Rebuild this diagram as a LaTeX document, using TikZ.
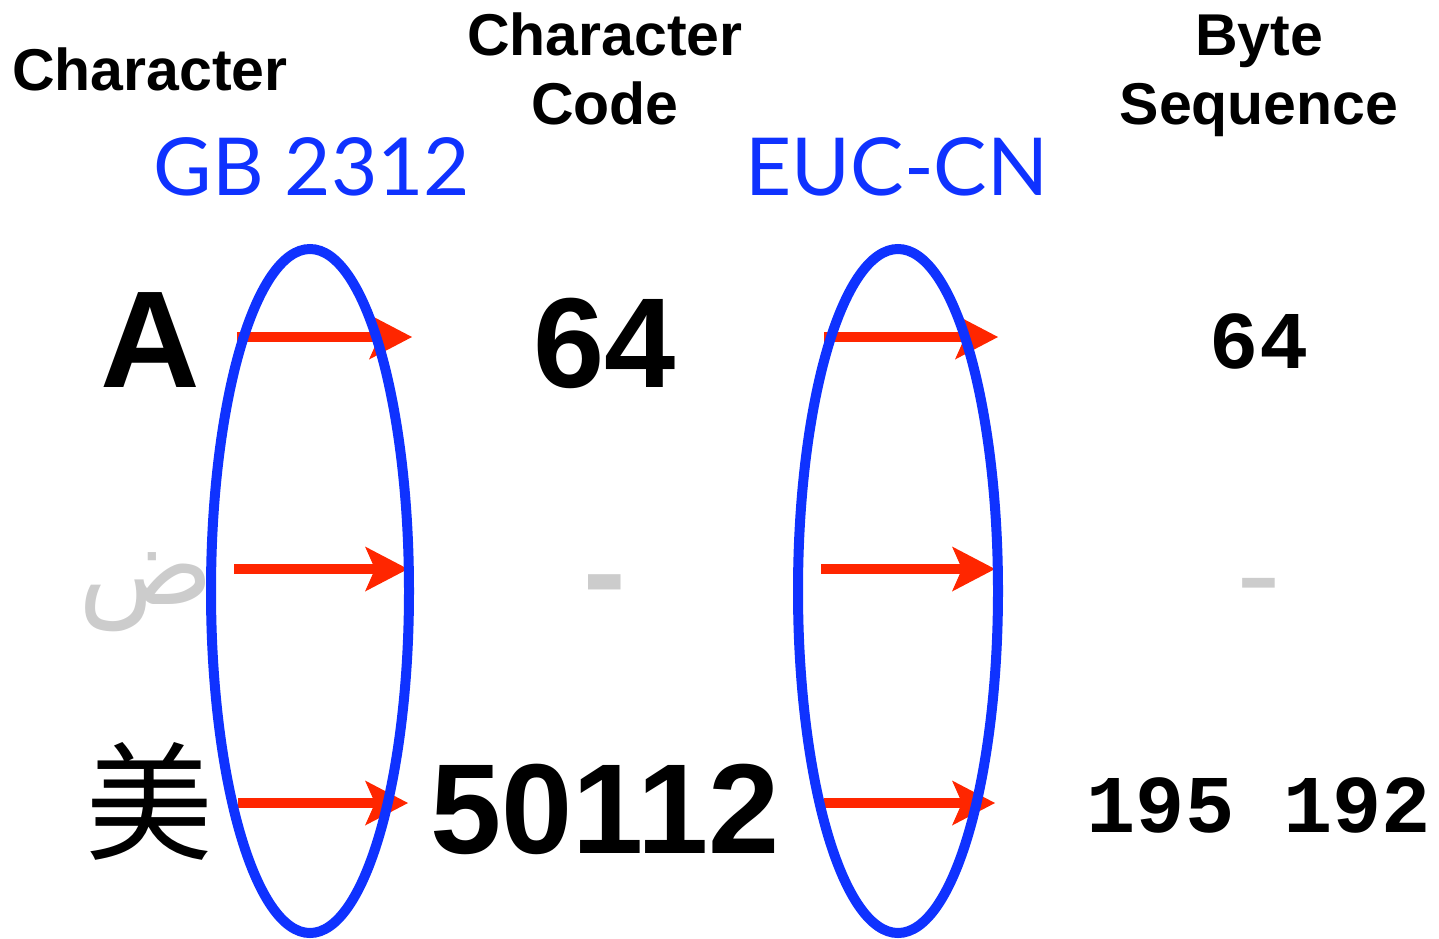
\documentclass[tikz,border=0pt]{standalone}
\usepackage{fontspec}
\usetikzlibrary{arrows.meta}
\setmainfont{Liberation Sans}
\newfontfamily\monofont{Liberation Mono}
\newfontfamily\labelfont{Lato}
\newfontfamily\cjkfont{Noto Sans CJK SC}
\newfontfamily\arabicfont[Script=Arabic]{DejaVu Sans}
\TeXXeTstate=1
\definecolor{encblue}{RGB}{15,50,255}
\definecolor{maparrow}{RGB}{255,38,0}
\definecolor{absent}{RGB}{204,204,204}
\begin{document}
\begin{tikzpicture}[x=1pt,y=-1pt,
  txt/.style={inner sep=0pt,anchor=base},
  header/.style={txt,align=center,font=\bfseries\fontsize{59}{69}\selectfont},
  encname/.style={txt,text=encblue,font=\labelfont\fontsize{80}{90}\selectfont},
  bigsym/.style={txt,font=\bfseries\fontsize{138}{150}\selectfont},
  codenum/.style={txt,font=\bfseries\fontsize{128}{140}\selectfont},
  bytenum/.style={txt,font=\monofont\bfseries\fontsize{82}{92}\selectfont},
  maps/.style={draw=maparrow,line width=10pt,
    -{Stealth[length=43pt,width=45pt,inset=10pt,line width=0pt]}},
  encoding/.style={draw=encblue,line width=10pt}]
\useasboundingbox (0,0) rectangle (1439,938);

% column headers (anchored at the baseline of the last line)
\node[header] (hchar) at (150,90) {Character};
\node[header] (hcode) at (605,124) {Character\\Code};
\node[header] (hbyte) at (1259,124) {Byte\\Sequence};

% encoding names
\node[encname] (gb) at (312,195) {GB 2312};
\node[encname] (euc) at (897,195) {EUC-CN};

% characters
\node[bigsym] (chA) at (150,387) {A};
\node[txt,text=absent,font=\arabicfont\fontsize{112}{120}\selectfont] (chDad) at (146,604) {\beginR ض\endR};
\node[txt,font=\cjkfont\fontsize{128}{140}\selectfont] (chMei) at (149,850) {美};

% character codes
\node[codenum] (c64) at (605,387) {64};
\node[codenum,text=absent] (cnone) at (605,615) {-};
\node[codenum] (c50112) at (605,853) {50112};

% byte sequences
\node[bytenum] (b64) at (1259,368) {64};
\node[bytenum,text=absent,xscale=1.4] (bnone) at (1259,604) {-};
\node[bytenum] (bmei) at (1259,832) {195 192};

% mapping arrows
\coordinate (g1s) at (237,337); \coordinate (g1e) at (412,337);
\coordinate (g2s) at (234,569); \coordinate (g2e) at (408,569);
\coordinate (g3s) at (238,803); \coordinate (g3e) at (408,803);
\coordinate (e1s) at (824,337); \coordinate (e1e) at (998,337);
\coordinate (e2s) at (821,569); \coordinate (e2e) at (995,569);
\coordinate (e3s) at (824,803); \coordinate (e3e) at (995,803);
\foreach \a in {g1,g2,g3,e1,e2,e3}
  \draw[maps] (\a s) -- (\a e);

% encoding ellipses
\draw[encoding] (310,591) ellipse [x radius=99, y radius=342];
\draw[encoding] (898,591) ellipse [x radius=100, y radius=342];
\end{tikzpicture}
\end{document}
